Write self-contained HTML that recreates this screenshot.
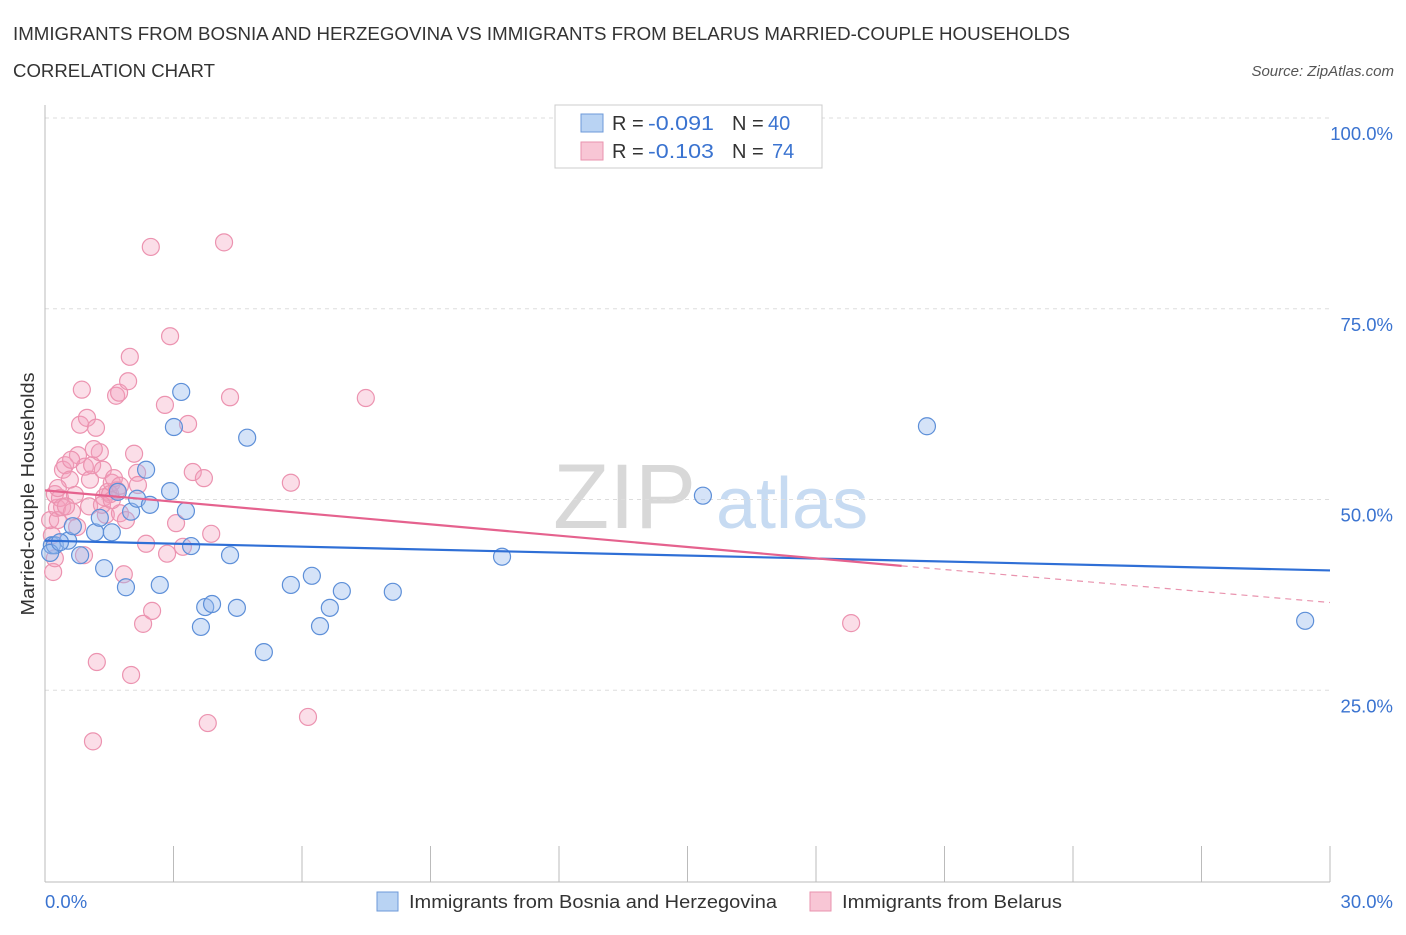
<!DOCTYPE html>
<html><head><meta charset="utf-8"><style>
body{margin:0;background:#fff;font-family:"Liberation Sans",sans-serif;}
svg text{font-family:"Liberation Sans",sans-serif;}
</style></head><body>
<svg id="chart" width="1406" height="930" xmlns="http://www.w3.org/2000/svg">
<text x="13" y="40" font-size="18" fill="#333" textLength="1057" lengthAdjust="spacingAndGlyphs">IMMIGRANTS FROM BOSNIA AND HERZEGOVINA VS IMMIGRANTS FROM BELARUS MARRIED-COUPLE HOUSEHOLDS</text>
<text x="13" y="77" font-size="18" fill="#333" textLength="202" lengthAdjust="spacingAndGlyphs">CORRELATION CHART</text>
<text x="1394" y="76" font-size="15" fill="#555" font-style="italic" text-anchor="end">Source: ZipAtlas.com</text>
<g>
<text x="553" y="528" font-size="92" fill="#d8d8d8" font-family="Liberation Serif">ZIP</text>
<text x="716" y="528" font-size="72" fill="#c7dbf2">atlas</text>
</g>
<g id="grid"></g>
<g id="axes"></g>
<g id="marks"></g>
<text transform="translate(34,494) rotate(-90)" font-size="18.5" fill="#333" text-anchor="middle" textLength="243" lengthAdjust="spacingAndGlyphs">Married-couple Households</text>
<g>
<rect x="555" y="105" width="267" height="63" fill="#fff" stroke="#ccc"/>
<rect x="581" y="114" width="22" height="18" fill="#b9d3f3" stroke="#6d9ad8"/>
<text x="612" y="130" font-size="20" fill="#333">R = </text>
<text x="648" y="130" font-size="20" fill="#3a73d0" textLength="66" lengthAdjust="spacingAndGlyphs">-0.091</text>
<text x="732" y="130" font-size="20" fill="#333">N = </text>
<text x="768" y="130" font-size="20" fill="#3a73d0">40</text>
<rect x="581" y="142" width="22" height="18" fill="#f8c6d5" stroke="#e993ae"/>
<text x="612" y="158" font-size="20" fill="#333">R = </text>
<text x="648" y="158" font-size="20" fill="#3a73d0" textLength="66" lengthAdjust="spacingAndGlyphs">-0.103</text>
<text x="732" y="158" font-size="20" fill="#333">N = </text>
<text x="772" y="158" font-size="20" fill="#3a73d0">74</text>
</g>
<g>
<rect x="377" y="892" width="21" height="19" fill="#b9d3f3" stroke="#6d9ad8"/>
<text x="409" y="908" font-size="18.5" fill="#333" textLength="368" lengthAdjust="spacingAndGlyphs">Immigrants from Bosnia and Herzegovina</text>
<rect x="810" y="892" width="21" height="19" fill="#f8c6d5" stroke="#e993ae"/>
<text x="842" y="908" font-size="18.5" fill="#333" textLength="220" lengthAdjust="spacingAndGlyphs">Immigrants from Belarus</text>
</g>
</svg>
<script>
const blueX=[0.16,0.23,0.12,0.54,0.65,0.82,1.17,1.28,1.38,1.56,1.70,1.89,2.01,2.15,2.36,2.45,2.68,2.92,3.01,3.18,3.29,3.41,3.64,3.74,3.90,4.32,4.48,4.72,5.11,5.74,6.23,6.42,6.65,6.93,8.12,10.67,15.36,20.59,29.42,0.35];
const blueY=[44.0,44.0,43.0,44.6,46.5,42.7,45.7,47.6,41.0,45.7,51.0,38.5,48.4,50.1,53.9,49.3,38.8,51.1,59.5,64.1,48.5,43.9,33.3,35.9,36.3,42.7,35.8,58.1,30.0,38.8,40.0,33.4,35.8,38.0,37.9,42.5,50.5,59.6,34.1,44.4];
const pinkX=[0.19,0.23,0.16,0.12,0.28,0.23,0.35,0.30,0.40,0.42,0.47,0.58,0.63,0.70,0.75,0.77,0.82,0.86,0.91,0.93,0.98,1.03,1.05,1.10,1.19,1.21,1.12,1.28,1.35,1.38,1.42,1.47,1.52,1.56,1.61,1.66,1.68,1.73,1.75,1.84,1.89,1.94,1.98,2.01,2.08,2.15,2.29,2.36,2.50,2.47,2.80,2.85,2.92,3.06,3.22,3.34,3.45,3.71,3.80,3.88,4.18,4.32,5.74,6.14,7.49,18.82,1.33,1.75,0.49,1.14,0.61,1.56,2.17,0.30];
const pinkY=[40.5,42.3,45.3,47.3,48.9,50.7,50.2,47.3,49.0,53.9,54.5,52.6,48.4,50.6,46.4,55.8,59.8,64.4,42.7,54.3,60.7,49.1,52.6,54.5,59.4,28.7,18.3,56.2,53.9,50.3,48.0,51.0,50.7,52.2,52.8,63.6,51.2,64.0,48.2,40.2,47.3,65.5,68.7,27.0,56.0,53.5,33.7,44.2,35.4,83.1,62.4,42.9,71.4,46.9,43.8,59.9,53.6,52.8,20.7,45.5,83.7,63.4,52.2,21.5,63.3,33.8,49.3,51.8,49.1,56.6,55.2,49.9,51.9,51.5];
const yTicks=[25,50,75,100];
const yTickLabels=["25.0%","50.0%","75.0%","100.0%"];
const xTickLabels=["0.0%","30.0%"];
const blueFit=[44.6,40.7];
const pinkFit=[51.2,41.3,36.5];
const pinkSolidEnd=20.0;

const NS="http://www.w3.org/2000/svg";
function sx(v){return 45+v/30*1285;}
function sy(v){return 881-v/100*763;}
function mk(tag,attrs,parent){const e=document.createElementNS(NS,tag);for(const k in attrs)e.setAttribute(k,attrs[k]);parent.appendChild(e);return e;}
const grid=document.getElementById('grid'),axes=document.getElementById('axes'),marks=document.getElementById('marks');
yTicks.forEach((t,i)=>{
  const l=mk('line',{x1:45,x2:1330,y1:sy(t),y2:sy(t),stroke:'#ddd','stroke-dasharray':'4,4'},grid);
  
  
  const tx=mk('text',{x:1393,y:sy(t)+22,'font-size':18.5,fill:'#3a73d0','text-anchor':'end'},axes);
  tx.textContent=yTickLabels[i];
  
  
});
const ax=mk('line',{x1:45,x2:45,y1:105,y2:882,stroke:'#bbb'},axes);


const bx=mk('line',{x1:45,x2:1330,y1:882,y2:882,stroke:'#bbb'},axes);


for(let i=0;i<=10;i++){
  const x=sx(i*3);
  const t=mk('line',{x1:x,x2:x,y1:846,y2:882,stroke:'#bbb'},axes);
  
  
}
[[0,'start',45],[30,'end',1393]].forEach((d,i)=>{
  const t=mk('text',{x:d[2],y:908,'font-size':18.5,fill:'#3a73d0','text-anchor':d[1]},axes);
  t.textContent=xTickLabels[i];
  
  
});
pinkX.forEach((x,i)=>{
  const c=mk('circle',{cx:sx(x),cy:sy(pinkY[i]),r:8.5,fill:'rgba(244,160,188,0.35)',stroke:'#ec93b0','stroke-width':1.2},marks);
  
  
});
blueX.forEach((x,i)=>{
  const c=mk('circle',{cx:sx(x),cy:sy(blueY[i]),r:8.5,fill:'rgba(150,186,238,0.4)',stroke:'#5d8fd8','stroke-width':1.2},marks);
  
  
});
const bl=mk('line',{x1:sx(0),y1:sy(blueFit[0]),x2:sx(30),y2:sy(blueFit[1]),stroke:'#2f6fd6','stroke-width':2.2},marks);


const pl=mk('line',{x1:sx(0),y1:sy(pinkFit[0]),x2:sx(pinkSolidEnd),y2:sy(pinkFit[1]),stroke:'#e5628e','stroke-width':2.2},marks);


const pd=mk('line',{x1:sx(pinkSolidEnd),y1:sy(pinkFit[1]),x2:sx(30),y2:sy(pinkFit[2]),stroke:'#e993ae','stroke-width':1.2,'stroke-dasharray':'6,5'},marks);


</script>
</body></html>
